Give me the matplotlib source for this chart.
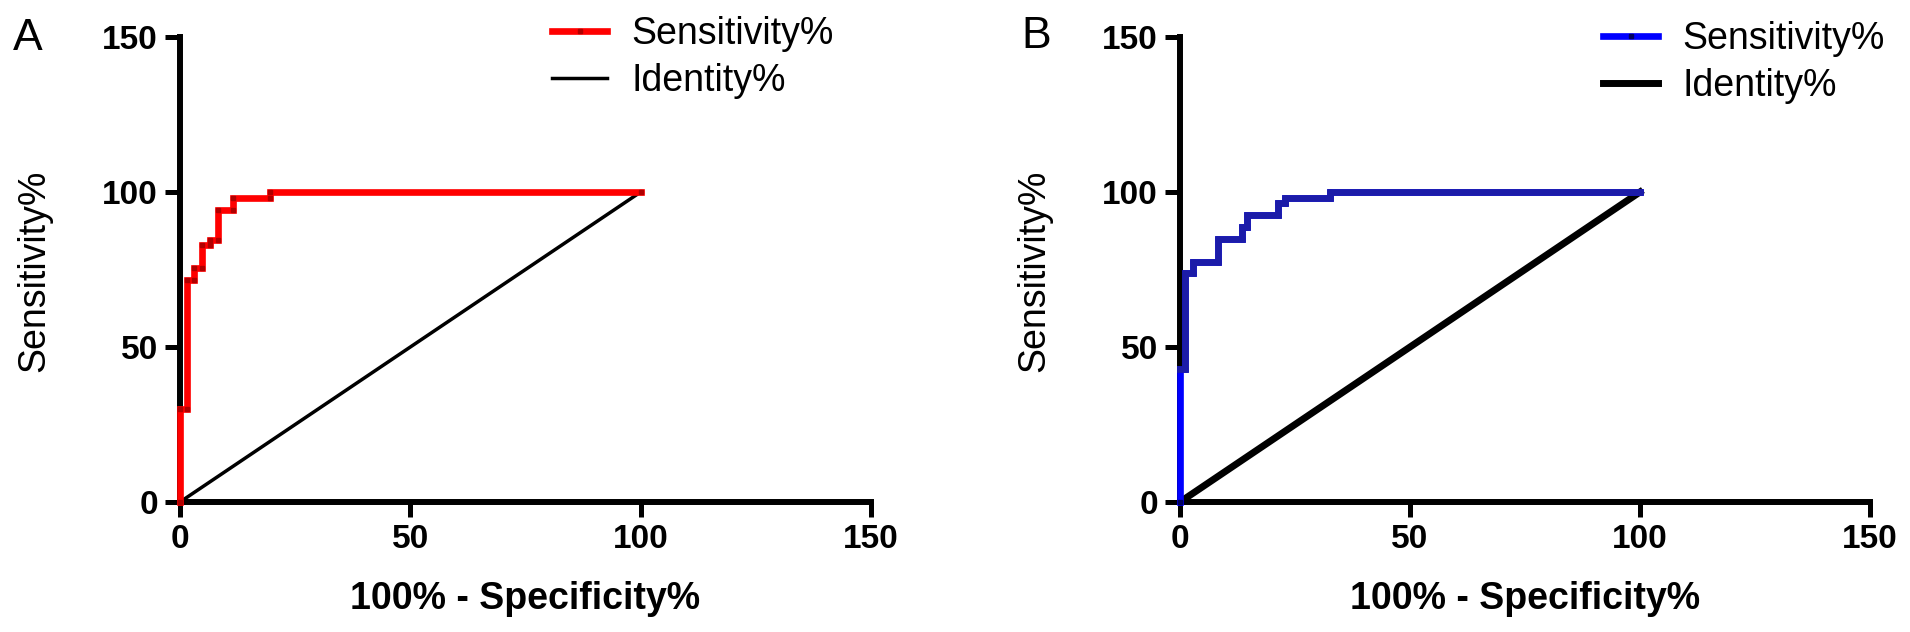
import matplotlib
matplotlib.use("Agg")
import matplotlib.pyplot as plt

plt.rcParams['font.family'] = ['Liberation Sans', 'DejaVu Sans']

# ---- data ----
A_fpr = [0, 0, 1.5, 1.5, 3.0, 3.0, 4.7, 4.7, 6.5, 6.5, 8.3, 8.3, 11.4, 11.4, 19.5, 19.5, 100]
A_sens = [0, 30, 30, 71.5, 71.5, 75.5, 75.5, 83, 83, 84.5, 84.5, 94.3, 94.3, 98, 98, 100, 100]

B_fpr = [0, 0, 1.1, 1.1, 2.9, 2.9, 8.3, 8.3, 13.4, 13.4, 14.5, 14.5, 21.4, 21.4, 22.8, 22.8, 32.6, 32.6, 100]
B_sens = [0, 43, 43, 74, 74, 77.5, 77.5, 85, 85, 88.8, 88.8, 92.6, 92.6, 96.4, 96.4, 98, 98, 100, 100]

identity_x = [0, 100]
identity_y = [0, 100]

ticks = [0, 50, 100, 150]
xlabel = "100% - Specificity%"
ylabel = "Sensitivity%"
series_labels = ["Sensitivity%", "Identity%"]
panel_letters = ["A", "B"]

W, H = 1910, 632
fig = plt.figure(figsize=(W / 100, H / 100), dpi=100)


def px(x0, y0, x1, y1):
    return [x0 / W, 1 - y1 / H, (x1 - x0) / W, (y1 - y0) / H]


def style_axes(ax):
    ax.set_xlim(0, 150)
    ax.set_ylim(0, 150)
    ax.set_xticks(ticks)
    ax.set_yticks(ticks)
    for s in ['top', 'right']:
        ax.spines[s].set_visible(False)
    for s in ['left', 'bottom']:
        ax.spines[s].set_linewidth(4.3)
        ax.spines[s].set_capstyle('projecting')
    ax.tick_params(direction='out', length=10.8, width=3.6, pad=5,
                   labelsize=24)
    for lab in ax.get_xticklabels() + ax.get_yticklabels():
        lab.set_fontweight('bold')
    ax.patch.set_alpha(0)


leg_kw = dict(loc='upper left', frameon=False, fontsize=27,
              handlelength=1.47, handletextpad=0.64, labelspacing=0.3,
              borderpad=0, borderaxespad=0)

# Panel A
axA = fig.add_axes(px(180, 37, 871, 502))
style_axes(axA)
lA, = axA.plot(A_fpr, A_sens, color='#ff0000', lw=4.8, marker='s', ms=2.6,
               mfc='#b00000', mec='#b00000', clip_on=False, zorder=5,
               solid_joinstyle='miter', label=series_labels[0])
iA, = axA.plot(identity_x, identity_y, color='black', lw=2.5, clip_on=False,
               zorder=4, label=series_labels[1])
fig.legend(handles=[lA, iA], bbox_to_anchor=(552 / W, 1 - 16 / H), **leg_kw)

# Panel B
axB = fig.add_axes(px(1180, 37, 1870, 502))
style_axes(axB)
lB, = axB.plot(B_fpr, B_sens, color='#0000ff', lw=4.8, marker='s', ms=2.6,
               mfc='#000060', mec='#000060', clip_on=False, zorder=5,
               solid_joinstyle='miter', label=series_labels[0])
axB.plot(B_fpr[1:], B_sens[1:], color='#1c1ca8', lw=4.8, clip_on=False,
         zorder=5, solid_joinstyle='miter')
iB, = axB.plot(identity_x, identity_y, color='black', lw=5.0, clip_on=False,
               zorder=4, label=series_labels[1])
fig.legend(handles=[lB, iB], bbox_to_anchor=(1603 / W, 1 - 21 / H), **leg_kw)

# axis labels
for xc, ycx in [(525, 34), (1525, 1034)]:
    fig.text(xc / W, 1 - 599 / H, xlabel, ha='center', va='center',
             fontsize=27, fontweight='bold')
    fig.text(ycx / W, 1 - 271 / H, ylabel, ha='center', va='center',
             fontsize=27, rotation=90)

# panel letters
fig.text(13 / W, 1 - 18 / H, panel_letters[0], ha='left', va='top', fontsize=32)
fig.text(1021 / W, 1 - 16 / H, panel_letters[1], ha='left', va='top', fontsize=32)

fig.savefig('out.png', dpi=100)
